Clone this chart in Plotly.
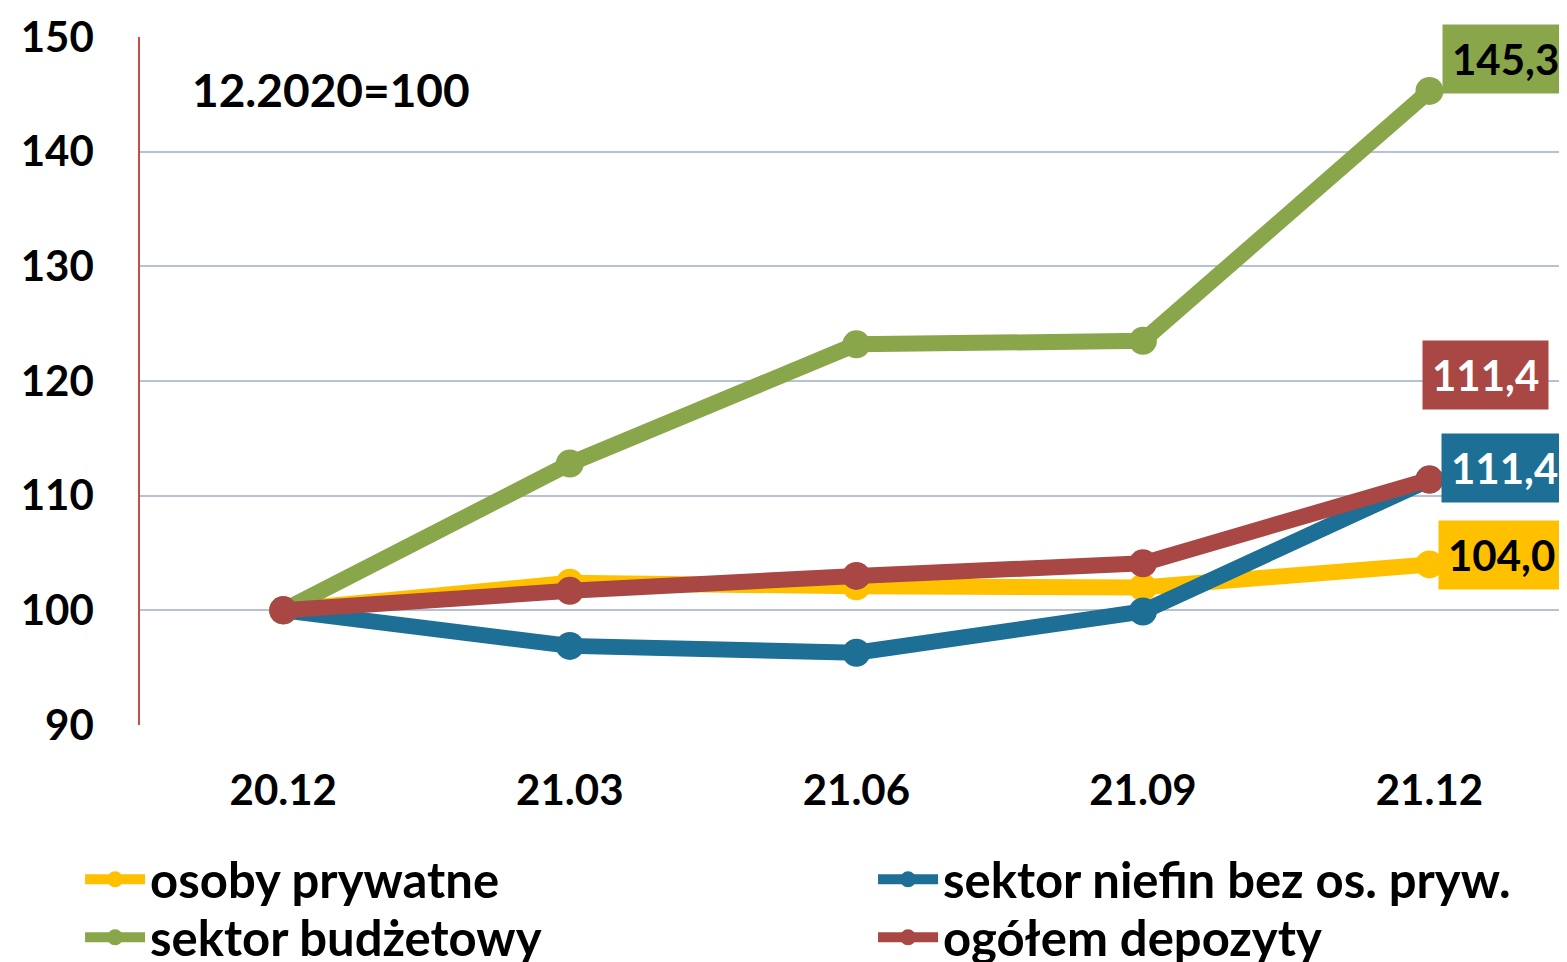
import plotly.graph_objects as go

# depozyty, indeks 12.2020 = 100
quarters = ["20.12", "21.03", "21.06", "21.09", "21.12"]

osoby_prywatne = [100.0, 102.4, 102.1, 102.0, 104.0]
sektor_niefin = [100.0, 96.9, 96.3, 99.9, 111.4]
sektor_budzetowy = [100.0, 112.8, 123.2, 123.5, 145.3]
ogolem_depozyty = [100.0, 101.7, 103.0, 104.1, 111.4]

FONT = "Lato"
YELLOW = "#FFC000"
BLUE = "#1D6F96"
GREEN = "#89A64B"
RED = "#A84744"

# (name, values, colour, legend slot)
series = [
    ("osoby prywatne", osoby_prywatne, YELLOW, "legend"),
    ("sektor niefin bez os. pryw.", sektor_niefin, BLUE, "legend2"),
    ("sektor budżetowy", sektor_budzetowy, GREEN, "legend3"),
    ("ogółem depozyty", ogolem_depozyty, RED, "legend4"),
]

fig = go.Figure()
for name, vals, color, leg in series:
    fig.add_trace(
        go.Scatter(
            x=quarters,
            y=vals,
            name=name,
            legend=leg,
            showlegend=True,
            mode="lines+markers",
            line=dict(color=color, width=16),
            marker=dict(color=color, size=28),
        )
    )

# end-of-series value boxes: (series values, bg, text colour, xshift, yshift)
last = len(quarters) - 1
end_labels = [
    (sektor_budzetowy, GREEN, "black", 13, 32),
    (ogolem_depozyty, RED, "white", -7, 105),
    (sektor_niefin, BLUE, "white", 12, 12),
    (osoby_prywatne, YELLOW, "black", 9, 9),
]
for vals, bg, fg, dx, dy in end_labels:
    fig.add_annotation(
        x=last,
        y=vals[-1],
        text=f"{vals[-1]:.1f}".replace(".", ","),
        showarrow=False,
        xanchor="left",
        yanchor="middle",
        xshift=dx,
        yshift=dy,
        bgcolor=bg,
        borderpad=9,
        font=dict(family=FONT, size=42, color=fg, weight="bold"),
    )

fig.add_annotation(
    x=0.035,
    y=0.923,
    xref="paper",
    yref="paper",
    text="12.2020=100",
    showarrow=False,
    xanchor="left",
    yanchor="middle",
    font=dict(family=FONT, size=46, color="black", weight="bold"),
)

legend_style = dict(
    orientation="v",
    xanchor="left",
    yanchor="top",
    itemwidth=60,
    font=dict(family=FONT, size=49, color="black", weight="bold"),
    bgcolor="rgba(0,0,0,0)",
)
col_x = [-0.042, 0.5137]
row_y = [-0.1686, -0.2529]

fig.update_layout(
    width=1559,
    height=954,
    showlegend=True,
    margin=dict(l=132, r=0, t=29, b=237, autoexpand=False),
    paper_bgcolor="white",
    plot_bgcolor="white",
    font=dict(family=FONT, size=42, color="black", weight="bold"),
    legend=dict(x=col_x[0], y=row_y[0], **legend_style),
    legend2=dict(x=col_x[1], y=row_y[0], **legend_style),
    legend3=dict(x=col_x[0], y=row_y[1], **legend_style),
    legend4=dict(x=col_x[1], y=row_y[1], **legend_style),
)

fig.update_xaxes(
    type="category",
    range=[-0.5, 4.48],
    showgrid=False,
    showline=True,
    linecolor="white",
    linewidth=2,
    ticks="outside",
    ticklen=28,
    tickcolor="rgba(0,0,0,0)",
    tickfont=dict(family=FONT, size=42, color="black", weight="bold"),
)
fig.update_yaxes(
    range=[90, 150],
    dtick=10,
    showgrid=True,
    gridcolor="#B7C1D1",
    gridwidth=1.5,
    zeroline=False,
    showline=True,
    linecolor="#C0504D",
    linewidth=1.5,
    ticks="outside",
    ticklen=36,
    tickcolor="rgba(0,0,0,0)",
    tickfont=dict(family=FONT, size=42, color="black", weight="bold"),
)

fig.write_html("out.html")
